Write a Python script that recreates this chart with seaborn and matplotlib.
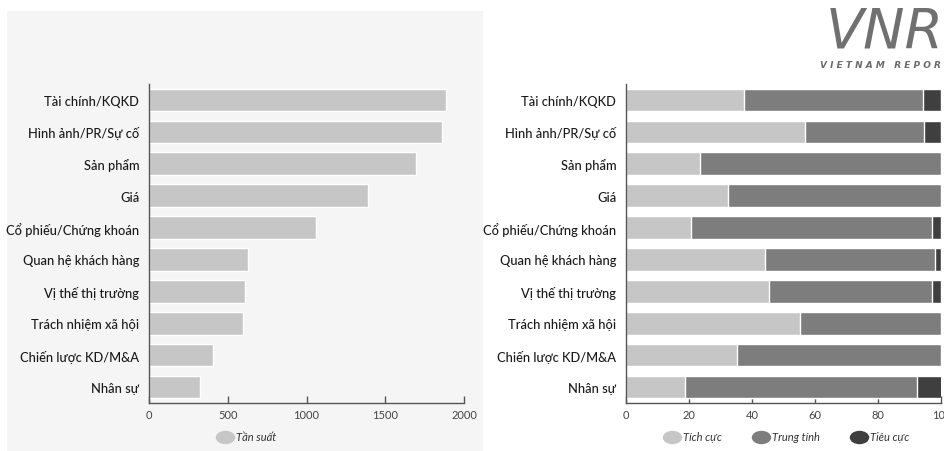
import matplotlib
matplotlib.use("Agg")
import matplotlib.pyplot as plt
import seaborn as sns
import pandas as pd
import numpy as np
from matplotlib.lines import Line2D
from matplotlib.patches import Rectangle
from matplotlib.path import Path

categories = ["Tài chính/KQKD", "Hình ảnh/PR/Sự cố", "Sản phẩm", "Giá",
              "Cổ phiếu/Chứng khoán", "Quan hệ khách hàng", "Vị thế thị trường",
              "Trách nhiệm xã hội", "Chiến lược KD/M&A", "Nhân sự"]
frequency = [1884, 1863, 1696, 1391, 1061, 626, 607, 594, 404, 326]
positive = [37.5, 56.8, 23.3, 32.3, 20.5, 44.2, 45.3, 55.1, 35.1, 18.6]
neutral = [56.6, 37.7, 76.7, 67.7, 76.5, 53.8, 51.8, 44.9, 64.9, 73.7]
negative = [5.9, 5.5, 0.0, 0.0, 3.0, 2.0, 2.9, 0.0, 0.0, 7.7]
left_ticks = [0, 500, 1000, 1500, 2000]
right_ticks = [0, 20, 40, 60, 80, 100]

sns.set_theme(style="white")
plt.rcParams["font.family"] = ["Lato", "DejaVu Sans"]

C_LIGHT = "#c6c6c6"
C_MID = "#7d7d7d"
C_DARK = "#3f3f3f"
AX_COL = "#555555"

fig = plt.figure(figsize=(9.45, 4.52), dpi=100)
fig.patch.set_facecolor("white")
bg = Rectangle((7 / 945, 0), (483 - 7) / 945, 1 - 12 / 452,
               transform=fig.transFigure, facecolor="#f5f5f5",
               edgecolor="none", zorder=-10)
fig.patches.append(bg)

axL = fig.add_axes([149 / 945, 1 - 404 / 452, 315 / 945, 319 / 452])
axR = fig.add_axes([626 / 945, 1 - 404 / 452, 315.5 / 945, 319 / 452])

dfL = pd.DataFrame({"cat": categories, "freq": frequency})
sns.barplot(data=dfL, x="freq", y="cat", color=C_LIGHT, saturation=1,
            width=0.71, ax=axL, order=categories)

pos = np.array(positive)
neu = np.array(neutral)
neg = np.array(negative)
dfR = pd.DataFrame({"cat": categories, "total": pos + neu + neg,
                    "posneu": pos + neu, "pos": pos})
sns.barplot(data=dfR, x="total", y="cat", color=C_DARK, saturation=1,
            width=0.71, ax=axR, order=categories)
sns.barplot(data=dfR, x="posneu", y="cat", color=C_MID, saturation=1,
            width=0.71, ax=axR, order=categories)
sns.barplot(data=dfR, x="pos", y="cat", color=C_LIGHT, saturation=1,
            width=0.71, ax=axR, order=categories)

for ax, xmax, ticks in [(axL, 2000, left_ticks), (axR, 100, right_ticks)]:
    ax.set_facecolor("none")
    ax.set_xlim(0, xmax)
    ax.set_ylim(9.5, -0.5)
    ax.set_xticks(ticks)
    ax.set_xticklabels([str(t) for t in ticks])
    ax.set_xlabel("")
    ax.set_ylabel("")
    for s in ["top", "right"]:
        ax.spines[s].set_visible(False)
    for s in ["left", "bottom"]:
        ax.spines[s].set_color(AX_COL)
        ax.spines[s].set_linewidth(1.0)
    ax.tick_params(axis="x", direction="in", length=5, width=1.0, color=AX_COL,
                   labelsize=8, labelcolor="#444444", pad=4, bottom=True)
    ax.tick_params(axis="y", length=0, labelsize=9.3, labelcolor="#1a1a1a", pad=7)
    for lab in ax.get_xticklabels():
        lab.set_clip_on(False)
    for lab in ax.get_yticklabels():
        lab.set_fontweight("medium")

# ellipse marker
circ = Path.unit_circle()
ell = Path(circ.vertices * np.array([1.45, 1.0]), circ.codes)

legL = [Line2D([0], [0], marker=ell, linestyle="none", markersize=14,
               markerfacecolor=C_LIGHT, markeredgecolor="none", label="Tần suất")]
axL.legend(handles=legL, loc="center", bbox_to_anchor=(245 / 945, 1 - 438 / 452),
           bbox_transform=fig.transFigure, frameon=False, handletextpad=0.0,
           prop={"style": "italic", "size": 8}, labelcolor="#333333")

legR = [Line2D([0], [0], marker=ell, linestyle="none", markersize=14,
               markerfacecolor=c, markeredgecolor="none", label=l)
        for c, l in [(C_LIGHT, "Tích cực"), (C_MID, "Trung tính"), (C_DARK, "Tiêu cực")]]
axR.legend(handles=legR, loc="center", bbox_to_anchor=(785 / 945, 1 - 438 / 452),
           bbox_transform=fig.transFigure, frameon=False, ncol=3,
           handletextpad=0.0, columnspacing=2.5,
           prop={"style": "italic", "size": 8}, labelcolor="#333333")

# logo text
fig.text(826 / 945, 1 - 32 / 452, "VNR", fontsize=40, fontweight="normal",
         fontstyle="italic", color="#707070", ha="left", va="center",
         family=["DejaVu Sans"])
fig.text(820 / 945, 1 - 66 / 452, "V I E T N A M   R E P O R T", fontsize=6.5,
         fontweight="bold", fontstyle="italic", color="#6a6a6a",
         ha="left", va="center", family=["DejaVu Sans"])

fig.savefig("out.png", dpi=100, facecolor="white")
